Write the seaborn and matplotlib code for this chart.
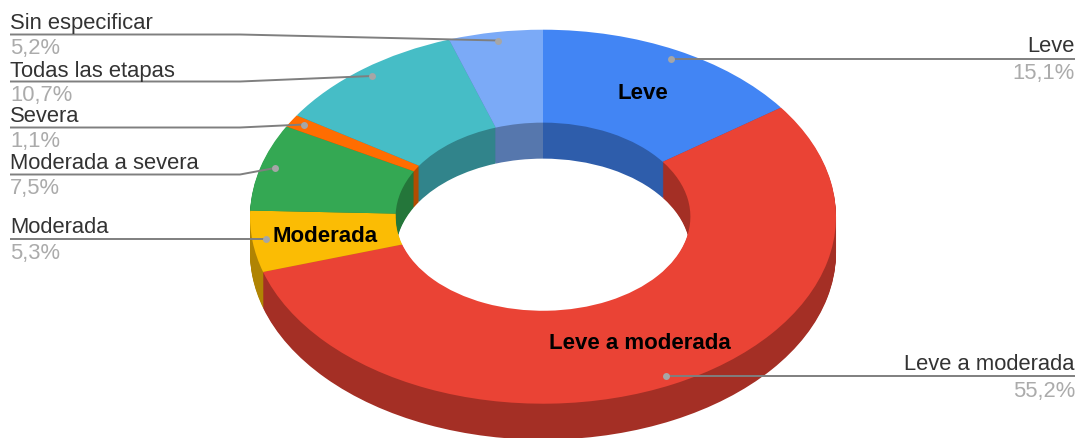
import numpy as np
import matplotlib
matplotlib.use("Agg")
import matplotlib.pyplot as plt
import seaborn as sns

categorias = ["Leve", "Leve a moderada", "Moderada", "Moderada a severa", "Severa", "Todas las etapas", "Sin especificar"]
valores = [15.1, 55.2, 5.3, 7.5, 1.1, 10.7, 5.2]
porcentajes = ["15,1%", "55,2%", "5,3%", "7,5%", "1,1%", "10,7%", "5,2%"]
colores = ["#4285F4", "#EA4335", "#FBBC04", "#34A853", "#FF6D01", "#46BDC6", "#7BAAF7"]

sns.set_theme(style="white")
plt.rcParams['font.family'] = ['Liberation Sans', 'DejaVu Sans']

paleta = sns.color_palette(colores)
paleta_oscura = [tuple(c * 0.7 for c in color) for color in paleta]

W, H = 1078, 439
CX, CY, RX, RY = 543, 217.7, 293, 187
PROF = 36

fig = plt.figure(figsize=(W / 100, H / 100), dpi=100)
ax = fig.add_axes([0, 0, 1, 1])

#Pared del anillo: se apilan anillos oscuros de abajo hacia arriba
for dy in np.arange(PROF, 0, -1):
    ax.pie(valores, colors=paleta_oscura, startangle=90, counterclock=False, radius=1,
           center=(0, -dy / RY), wedgeprops={"width": 0.497, "linewidth": 0})
ax.pie(valores, colors=paleta, startangle=90, counterclock=False, radius=1,
       wedgeprops={"width": 0.497, "linewidth": 0})
ax.set_aspect("auto")
ax.set_xlim(-CX / RX, (W - CX) / RX)
ax.set_ylim((CY - H) / RY, CY / RY)

#Capa superior en pixeles para etiquetas y guias
over = fig.add_axes([0, 0, 1, 1], facecolor="none")
over.set_xlim(0, W)
over.set_ylim(H, 0)
over.axis("off")

#categoria: (x texto, alineacion, base texto, base %, puntos de la guia)
etiquetas = {
    "Leve": (1075, "right", 52.5, 79, [(1075, 59.5), (671, 59.5)]),
    "Leve a moderada": (1075, "right", 370.5, 397, [(1075, 377), (666, 377)]),
    "Moderada": (10, "left", 233.5, 259, [(10, 240), (266, 240)]),
    "Moderada a severa": (10, "left", 169.5, 194, [(10, 175.5), (240, 175.5), (275, 169)]),
    "Severa": (10, "left", 122.5, 147, [(10, 128.5), (240, 128.5), (304, 125.5)]),
    "Todas las etapas": (10, "left", 76.5, 101, [(10, 82.5), (240, 82.5), (372, 77)]),
    "Sin especificar": (10, "left", 29.5, 54, [(10, 35.5), (240, 35.5), (498, 41.5)]),
}

for nombre, pct in zip(categorias, porcentajes):
    x, ha, y1, y2, guia = etiquetas[nombre]
    over.text(x, y1, nombre, ha=ha, va="baseline", fontsize=15.8, color="#333333")
    over.text(x, y2, pct, ha=ha, va="baseline", fontsize=15.8, color="#ababab")
    gx, gy = zip(*guia)
    over.plot(gx, gy, color="#7f7f7f", linewidth=1.4, solid_capstyle="butt")
    over.plot(gx[-1], gy[-1], "o", color="#a6a6a6", markersize=5, markeredgewidth=0)

#Etiquetas en negrita dentro del anillo
over.text(643, 99, "Leve", ha="center", va="baseline", fontsize=16, fontweight="bold", color="black")
over.text(640, 349, "Leve a moderada", ha="center", va="baseline", fontsize=16, fontweight="bold", color="black")
over.text(325, 242, "Moderada", ha="center", va="baseline", fontsize=16, fontweight="bold", color="black")

fig.savefig("out.png", dpi=100)
